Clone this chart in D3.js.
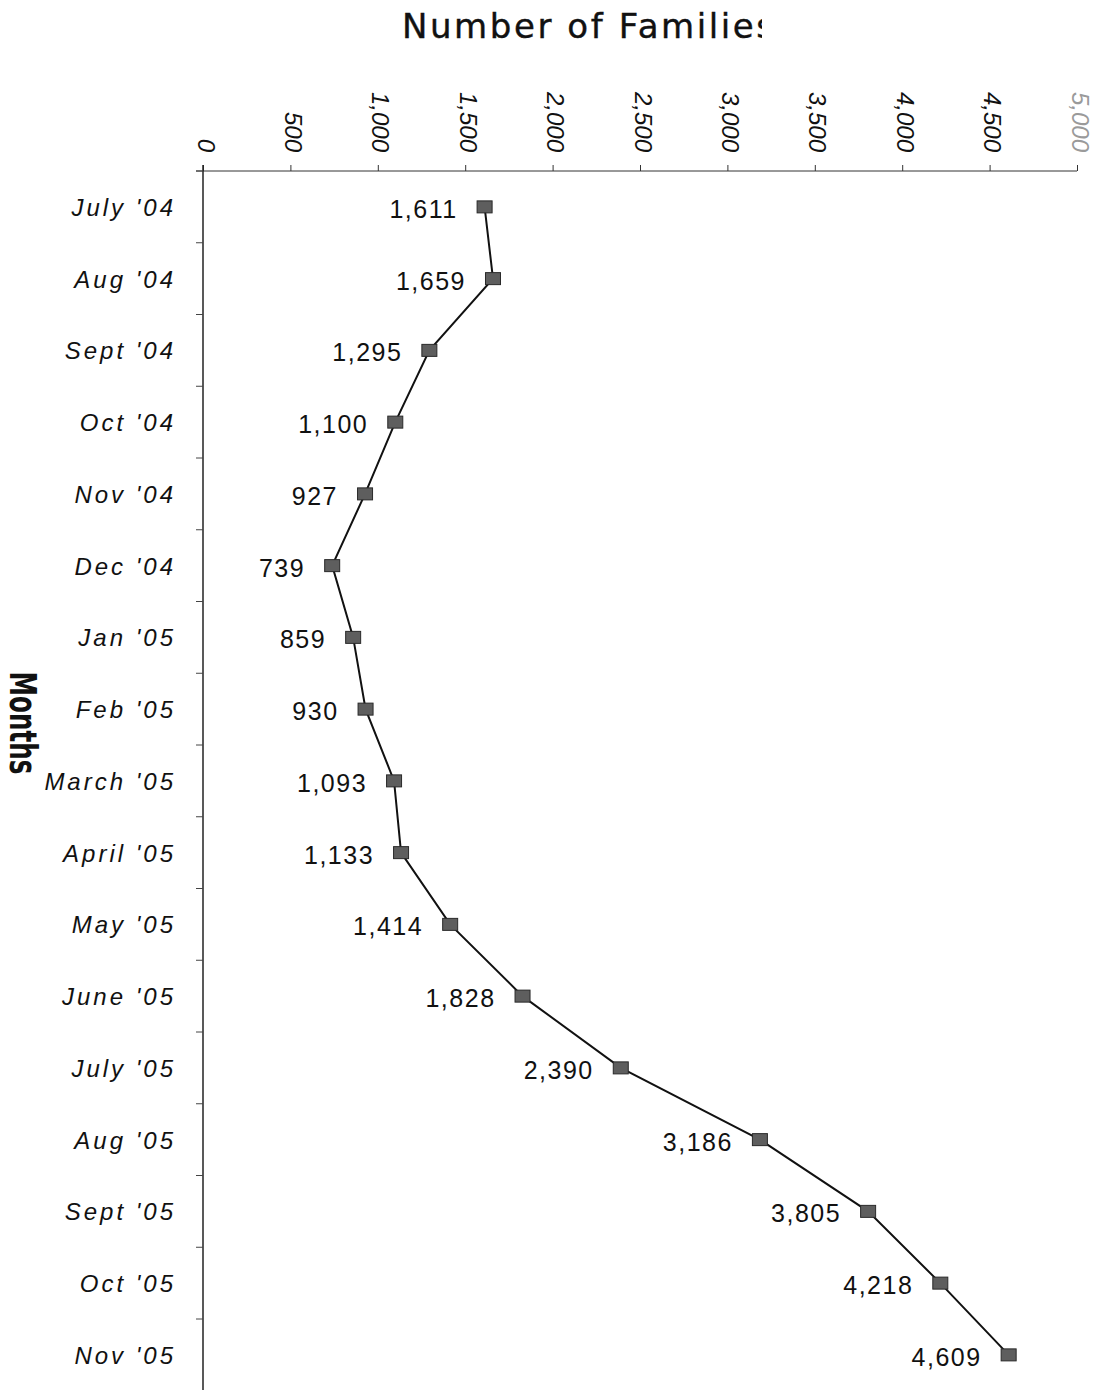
<!DOCTYPE html>
<html>
<head>
<meta charset="utf-8">
<script src="https://cdn.jsdelivr.net/npm/d3@7"></script>
<style>
  html, body { margin: 0; padding: 0; background: #fff; }
  svg { display: block; }
</style>
</head>
<body>
<svg id="chart" width="1105" height="1390"></svg>
<script>
// Monthly count of families, July 2004 – November 2005
const months = ["July '04", "Aug '04", "Sept '04", "Oct '04", "Nov '04", "Dec '04",
  "Jan '05", "Feb '05", "March '05", "April '05", "May '05", "June '05",
  "July '05", "Aug '05", "Sept '05", "Oct '05", "Nov '05"];
const families = [1611, 1659, 1295, 1100, 927, 739, 859, 930, 1093, 1133,
  1414, 1828, 2390, 3186, 3805, 4218, 4609];
const xTicks = [0, 500, 1000, 1500, 2000, 2500, 3000, 3500, 4000, 4500, 5000];

const svg = d3.select("#chart");
const fmt = d3.format(",");

const x = d3.scaleLinear().domain([0, 5000]).range([203, 1077]);
const y = d3.scaleBand().domain(months).range([171, 171 + 17 * 71.75]).padding(0);

// Title (clipped at the right, as in the printed chart)
svg.append("clipPath").attr("id", "titleClip")
  .append("rect").attr("x", 380).attr("y", 0).attr("width", 382).attr("height", 60);
svg.append("text")
  .attr("clip-path", "url(#titleClip)")
  .attr("x", 402).attr("y", 38)
  .attr("font-family", "'DejaVu Sans', sans-serif")
  .attr("font-size", 34)
  .attr("textLength", 372).attr("lengthAdjust", "spacing")
  .attr("fill", "#111")
  .attr("stroke", "#111").attr("stroke-width", 0.4)
  .text("Number of Families");

// Vertical axis title
svg.append("text")
  .attr("transform", "translate(10,723) rotate(90)")
  .attr("text-anchor", "middle")
  .attr("font-family", "'DejaVu Sans', sans-serif")
  .attr("font-weight", "bold")
  .attr("font-size", 37)
  .attr("textLength", 103).attr("lengthAdjust", "spacingAndGlyphs")
  .attr("fill", "#111")
  .text("Months");

// Top value axis
const xAxis = svg.append("g")
  .attr("transform", "translate(0,171)")
  .call(d3.axisTop(x).tickValues(xTicks).tickFormat(fmt).tickSize(6).tickSizeOuter(0));
xAxis.select(".domain").attr("stroke", "#333").attr("stroke-width", 1)
  .attr("d", `M196,0H${x(5000)}`);
xAxis.selectAll(".tick line").attr("stroke", "#333");
xAxis.selectAll(".tick text")
  .attr("transform", "rotate(90)")
  .attr("text-anchor", "end")
  .attr("x", -19).attr("y", 6).attr("dy", null)
  .attr("font-family", "'Liberation Sans', Arial, sans-serif")
  .attr("font-style", "italic")
  .attr("font-size", 24)
  .attr("fill", d => d === 5000 ? "#9a9a9a" : "#111");

// Left category axis
const yAxis = svg.append("g").attr("transform", "translate(203,0)");
yAxis.append("line")
  .attr("x1", 0).attr("x2", 0)
  .attr("y1", 165).attr("y2", 1390)
  .attr("stroke", "#222").attr("stroke-width", 1.5);
const boundaries = months.map(m => y(m)).concat([y(months[months.length - 1]) + y.bandwidth()]);
yAxis.selectAll("line.tick").data(boundaries).join("line")
  .attr("class", "tick")
  .attr("x1", -7).attr("x2", 0)
  .attr("y1", d => d).attr("y2", d => d)
  .attr("stroke", "#444");
svg.append("g").selectAll("text").data(months).join("text")
  .attr("x", 176)
  .attr("y", d => y(d) + y.bandwidth() / 2 + 9)
  .attr("text-anchor", "end")
  .attr("font-family", "'Liberation Sans', Arial, sans-serif")
  .attr("font-style", "italic")
  .attr("font-size", 24)
  .attr("letter-spacing", 3)
  .attr("fill", "#111")
  .text(d => d);

// Line and markers
const pts = months.map((m, i) => ({ m, v: families[i] }));
const line = d3.line().x(d => x(d.v)).y(d => y(d.m) + y.bandwidth() / 2);
svg.append("path").datum(pts)
  .attr("d", line)
  .attr("fill", "none")
  .attr("stroke", "#111")
  .attr("stroke-width", 2);

svg.append("g").selectAll("rect").data(pts).join("rect")
  .attr("x", d => x(d.v) - 7.5)
  .attr("y", d => y(d.m) + y.bandwidth() / 2 - 6)
  .attr("width", 15).attr("height", 12)
  .attr("fill", "#5e5e5e")
  .attr("stroke", "#2a2a2a").attr("stroke-width", 1);

// Value labels
svg.append("g").selectAll("text").data(pts).join("text")
  .attr("x", d => x(d.v) - 27)
  .attr("y", d => y(d.m) + y.bandwidth() / 2 + 11)
  .attr("text-anchor", "end")
  .attr("font-family", "'Liberation Sans', Arial, sans-serif")
  .attr("font-size", 25)
  .attr("letter-spacing", 1.5)
  .attr("fill", "#111")
  .text(d => fmt(d.v));
</script>
</body>
</html>
